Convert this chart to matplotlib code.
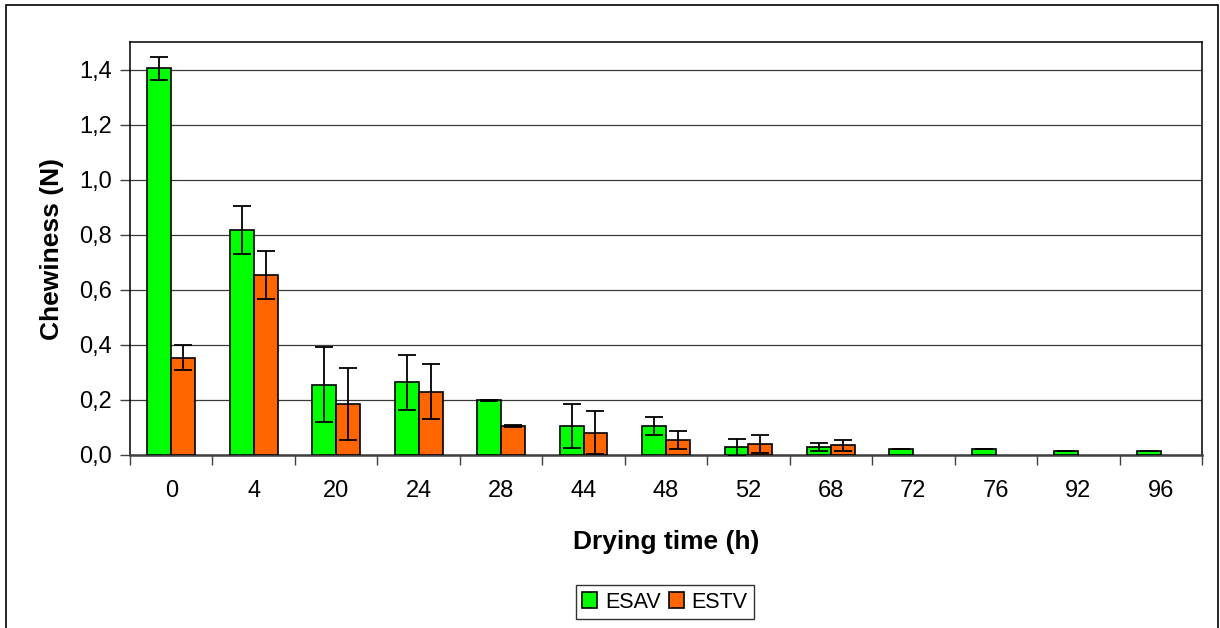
import matplotlib.pyplot as plt
import numpy as np
from matplotlib.patches import Rectangle
from matplotlib.ticker import FixedLocator, FuncFormatter

plt.rcParams["font.family"] = ["Liberation Sans", "DejaVu Sans"]

# drying time categories (h)
times = ["0", "4", "20", "24", "28", "44", "48", "52", "68", "72", "76", "92", "96"]

esav = [1.405, 0.817, 0.256, 0.264, 0.198, 0.106, 0.106, 0.028, 0.028, 0.022, 0.022, 0.016, 0.016]
esav_err = [0.042, 0.088, 0.135, 0.099, 0.003, 0.079, 0.033, 0.031, 0.014, 0.0, 0.0, 0.0, 0.0]

estv = [0.354, 0.654, 0.184, 0.230, 0.106, 0.081, 0.054, 0.040, 0.035,
        np.nan, np.nan, np.nan, np.nan]
estv_err = [0.044, 0.088, 0.131, 0.099, 0.003, 0.079, 0.033, 0.033, 0.019,
            0.0, 0.0, 0.0, 0.0]

W, H = 1220, 628
fig = plt.figure(figsize=(W / 100, H / 100), dpi=100)
# outer chart frame
fig.patches.append(Rectangle((6 / W, -0.05), (1218 - 6) / W, 1.05 - 5 / H,
                             transform=fig.transFigure, fill=False,
                             edgecolor="black", linewidth=1.2))

ax = fig.add_axes([130 / W, (H - 455) / H, (1202 - 130) / W, (455 - 42) / H])

x = np.arange(len(times))
w = 0.29
err_kw = dict(ecolor="black", elinewidth=1.3, capsize=6.5, capthick=1.3)
ax.bar(x - w / 2, esav, w, yerr=esav_err,
       color="#00FF00", edgecolor="black", linewidth=1.2, label="ESAV",
       error_kw=err_kw, zorder=3)
ax.bar(x + w / 2, estv, w, yerr=estv_err,
       color="#FF6600", edgecolor="black", linewidth=1.2, label="ESTV",
       error_kw=err_kw, zorder=3)

ax.set_xlim(-0.5, len(times) - 0.5)
ax.set_ylim(0, 1.5)
ax.set_yticks(np.arange(0, 1.41, 0.2))
ax.yaxis.set_major_formatter(FuncFormatter(lambda v, p: f"{v:.1f}".replace(".", ",")))
ax.yaxis.grid(True, color="#3a3a3a", linewidth=0.9, zorder=0)
ax.set_axisbelow(True)

ax.set_xticks(x)
ax.set_xticklabels(times)
ax.xaxis.set_minor_locator(FixedLocator(np.arange(-0.5, len(times), 1.0)))
ax.tick_params(axis="x", which="major", length=0, pad=18, labelsize=17)
ax.tick_params(axis="x", which="minor", length=7, width=1, direction="out", color="#404040")
ax.tick_params(axis="y", length=7, width=1, direction="out", color="#404040",
               pad=6, labelsize=17)

for s in ["top", "right", "left"]:
    ax.spines[s].set_color("black")
    ax.spines[s].set_linewidth(1.1)
ax.spines["bottom"].set_color("#404040")
ax.spines["bottom"].set_linewidth(1.8)

ax.set_xlabel("Drying time (h)", fontsize=19, fontweight="bold", labelpad=20)
ax.set_ylabel("Chewiness (N)", fontsize=19, fontweight="bold", labelpad=11)

leg = ax.legend(loc="center", bbox_to_anchor=(665 / W, 1 - 602 / H),
                bbox_transform=fig.transFigure, ncol=2, frameon=True,
                fancybox=False, edgecolor="black", fontsize=15.5,
                handlelength=0.7, handleheight=0.7, handletextpad=0.35,
                columnspacing=0.4, borderpad=0.3)
leg.get_frame().set_linewidth(1.0)

fig.savefig("out.png", dpi=100)
